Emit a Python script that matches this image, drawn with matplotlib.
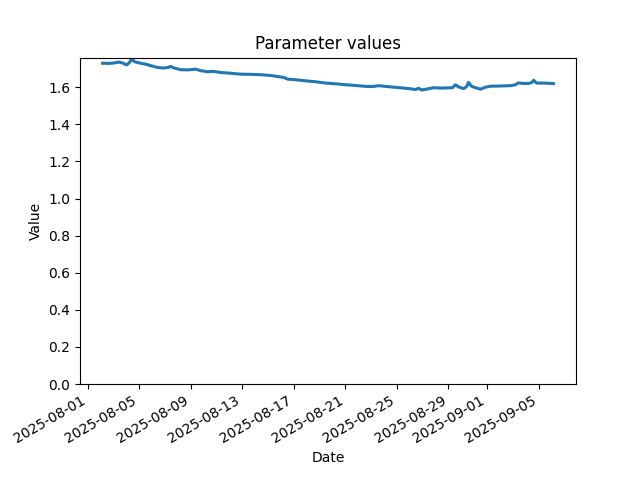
import matplotlib
matplotlib.use("Agg")
import matplotlib.pyplot as plt
import pandas as pd

# Time offsets (days since 2025-08-01 00:00) and parameter values
day_offsets = [1.16, 1.63, 2.02, 2.40, 2.72, 3.03, 3.26, 3.41, 3.65, 4.11, 4.50, 4.89,
               5.43, 5.90, 6.28, 6.44, 6.67, 7.21, 7.84, 8.38, 8.77, 9.31, 9.78, 10.32,
               11.09, 11.87, 12.65, 13.42, 14.20, 14.97, 15.28, 15.52, 16.14, 16.91, 17.69,
               18.46, 19.24, 20.02, 20.79, 21.57, 22.11, 22.58, 23.12, 23.89, 24.52, 25.06,
               25.45, 25.68, 25.91, 26.30, 26.84, 27.39, 27.93, 28.32, 28.55, 28.78, 29.17,
               29.40, 29.56, 29.79, 30.10, 30.49, 30.88, 31.26, 32.04, 32.82, 33.20, 33.44,
               33.75, 34.21, 34.45, 34.61, 34.84, 35.30, 35.76, 36.15]
values = [1.730, 1.729, 1.731, 1.736, 1.731, 1.721, 1.735, 1.752, 1.738, 1.730, 1.725, 1.717,
          1.707, 1.704, 1.708, 1.713, 1.705, 1.695, 1.694, 1.698, 1.690, 1.684, 1.686, 1.680,
          1.676, 1.671, 1.670, 1.668, 1.664, 1.656, 1.652, 1.644, 1.641, 1.635, 1.630,
          1.623, 1.619, 1.614, 1.610, 1.605, 1.604, 1.609, 1.605, 1.600, 1.596, 1.592,
          1.588, 1.595, 1.586, 1.590, 1.598, 1.596, 1.597, 1.598, 1.614, 1.602, 1.593,
          1.603, 1.627, 1.606, 1.598, 1.590, 1.601, 1.606, 1.607, 1.609, 1.614, 1.624,
          1.621, 1.621, 1.625, 1.638, 1.623, 1.623, 1.622, 1.620]

start = pd.Timestamp("2025-08-01")
dates = start + pd.to_timedelta(day_offsets, unit="D")

fig, ax = plt.subplots(figsize=(6.4, 4.8), dpi=100)
ax.plot(dates, values, color="#1f77b4", linewidth=2.2)
ax.set_ylim(bottom=0)
ax.set_title("Parameter values")
ax.set_xlabel("Date")
ax.set_ylabel("Value")
fig.autofmt_xdate()
fig.savefig("out.png", dpi=100)
